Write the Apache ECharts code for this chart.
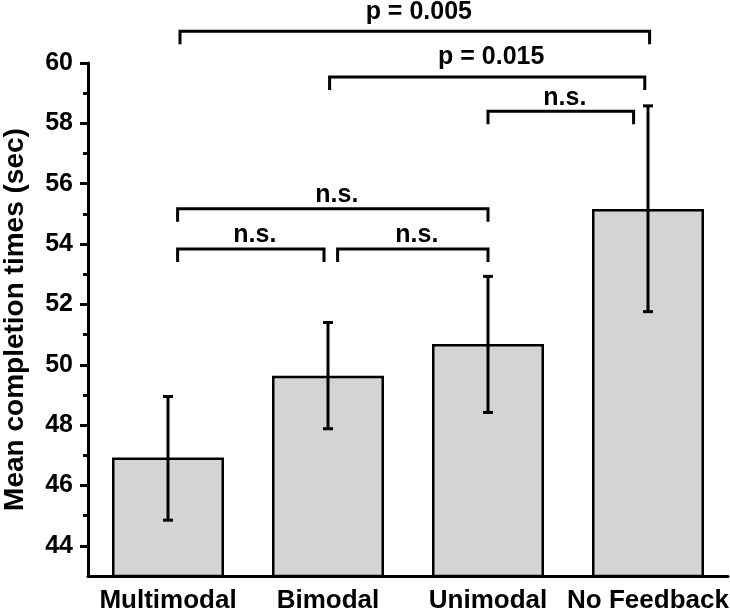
<!DOCTYPE html>
<html>
<head>
<meta charset="utf-8">
<script src="https://cdn.jsdelivr.net/npm/echarts@6/dist/echarts.min.js"></script>
<style>
html,body{margin:0;padding:0;background:#fff;}
#chart{width:730px;height:616px;}
</style>
</head>
<body>
<div id="chart"></div>
<script>
const categories = ['Multimodal', 'Bimodal', 'Unimodal', 'No Feedback'];
const means = [46.93, 49.64, 50.69, 55.16];
const errLow = [44.85, 47.88, 48.42, 51.76];
const errHigh = [48.95, 51.40, 52.93, 58.58];
const yTicks = [44, 46, 48, 50, 52, 54, 56, 58, 60];
const yMinorTicks = [45, 47, 49, 51, 53, 55, 57, 59];
const bracketFrom = [0.075, 1.01, 2.0, 0.06, 0.06, 1.06];
const bracketTo = [3.01, 2.98, 2.91, 2.0, 0.975, 2.0];
const bracketLevel = [61.05, 59.54, 58.40, 55.17, 53.84, 53.84];
const bracketLabels = ['p = 0.005', 'p = 0.015', 'n.s.', 'n.s.', 'n.s.', 'n.s.'];

const FONT = '"Liberation Sans", Arial, Helvetica, sans-serif';
const chart = echarts.init(document.getElementById('chart'), null, {renderer: 'canvas'});

const errData = categories.map((c, i) => [i, errLow[i], errHigh[i]]);
const bracketData = bracketFrom.map((f, i) => [f, bracketTo[i], bracketLevel[i]]);

chart.setOption({
  animation: false,
  backgroundColor: '#fff',
  grid: {left: 88, right: 2, top: 63, bottom: 40, containLabel: false, outerBoundsMode: 'none'},
  xAxis: [{
    type: 'category',
    data: categories,
    axisLine: {onZero: false, lineStyle: {color: '#000', width: 3}},
    axisTick: {alignWithLabel: true, length: 8, lineStyle: {color: '#000', width: 3}},
    axisLabel: {color: '#000', fontSize: 26, fontWeight: 'bold', fontFamily: FONT, margin: 12, interval: 0},
    splitLine: {show: false}
  }, {
    type: 'value', min: -0.5, max: 3.5, show: false,
    axisLine: {onZero: false}
  }],
  yAxis: [{
    type: 'value', min: 43, max: 60, position: 'left', offset: 0,
    axisLine: {show: true, onZero: false, lineStyle: {color: '#000', width: 3}},
    axisTick: {show: true, length: 8, customValues: yTicks, lineStyle: {color: '#000', width: 3}},
    axisLabel: {color: '#000', fontSize: 25, fontWeight: 'bold', fontFamily: FONT, margin: 15, customValues: yTicks},
    splitLine: {show: false},
    name: 'Mean completion times (sec)',
    nameLocation: 'middle',
    nameGap: 59,
    nameTextStyle: {color: '#000', fontSize: 28, fontWeight: 'bold', fontFamily: FONT}
  }, {
    type: 'value', min: 43, max: 60, position: 'left', offset: 0,
    axisLine: {show: false, onZero: false},
    axisTick: {show: true, length: 5, customValues: yMinorTicks, lineStyle: {color: '#000', width: 3}},
    axisLabel: {show: false},
    splitLine: {show: false}
  }],
  series: [{
    type: 'bar',
    data: means,
    barWidth: '70%',
    itemStyle: {color: '#d4d4d4', borderColor: '#000', borderWidth: 2.5},
    z: 2
  }, {
    type: 'custom',
    data: errData,
    z: 5,
    clip: false,
    renderItem: function (params, api) {
      const x = api.value(0);
      const lo = api.coord([x, api.value(1)]);
      const hi = api.coord([x, api.value(2)]);
      const cap = 5;
      const st = {stroke: '#000', lineWidth: 3};
      return {type: 'group', children: [
        {type: 'line', shape: {x1: lo[0], y1: lo[1], x2: hi[0], y2: hi[1]}, style: st},
        {type: 'line', shape: {x1: lo[0] - cap, y1: lo[1], x2: lo[0] + cap, y2: lo[1]}, style: st},
        {type: 'line', shape: {x1: hi[0] - cap, y1: hi[1], x2: hi[0] + cap, y2: hi[1]}, style: st}
      ]};
    }
  }, {
    type: 'custom',
    xAxisIndex: 1,
    yAxisIndex: 0,
    data: bracketData,
    z: 5,
    clip: false,
    renderItem: function (params, api) {
      const a = api.coord([api.value(0), api.value(2)]);
      const b = api.coord([api.value(1), api.value(2)]);
      const leg = 13;
      const label = bracketLabels[params.dataIndex];
      const gap = /p/.test(label) ? 7 : 1;
      const st = {stroke: '#000', lineWidth: 3, fill: null};
      return {type: 'group', children: [
        {type: 'polyline', shape: {points: [[a[0], a[1] + leg], [a[0], a[1]], [b[0], b[1]], [b[0], b[1] + leg]]}, style: st},
        {type: 'text', x: (a[0] + b[0]) / 2 + 4, y: a[1] - gap,
          style: {text: label, fill: '#000', font: 'bold 25px ' + FONT, textAlign: 'center', textVerticalAlign: 'bottom'}}
      ]};
    }
  }]
});
</script>
</body>
</html>
